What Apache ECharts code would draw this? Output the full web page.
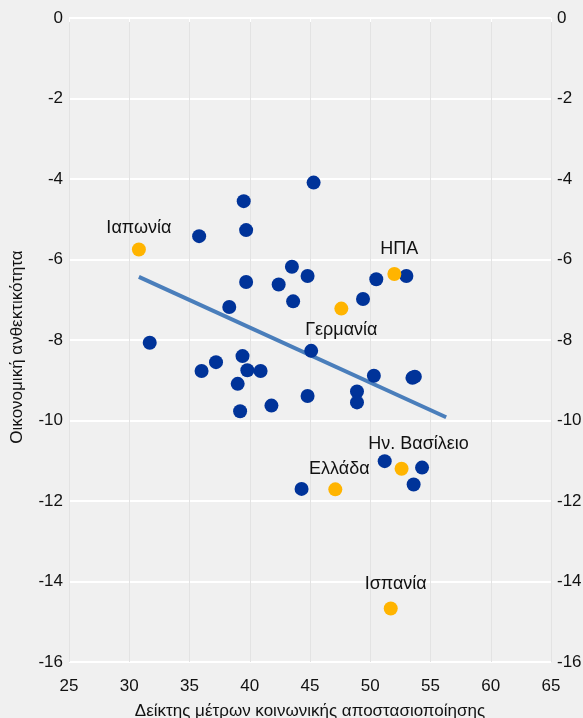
<!DOCTYPE html>
<html>
<head>
<meta charset="utf-8">
<script src="https://cdn.jsdelivr.net/npm/echarts@6/dist/echarts.min.js"></script>
<style>
  html, body { margin: 0; padding: 0; background: #f0f0f0; }
  #chart { width: 583px; height: 718px; }
</style>
</head>
<body>
<div id="chart"></div>
<script>
// other countries (blue dots)
const otherX = [31.7, 35.8, 36.0, 37.2, 38.3, 39.5, 39.7, 39.7, 39.4, 39.8, 40.9, 39.0, 39.2, 41.8,
  43.5, 42.4, 43.6, 44.8, 45.3, 45.1, 44.8, 49.4, 50.5, 53.0, 50.3, 48.9, 48.9, 53.5, 53.7,
  51.2, 54.3, 53.6, 44.3];
const otherY = [-8.07, -5.42, -8.77, -8.55, -7.18, -4.55, -5.27, -6.56, -8.40, -8.75, -8.77, -9.09, -9.77, -9.63,
  -6.18, -6.62, -7.04, -6.41, -4.09, -8.27, -9.39, -6.98, -6.49, -6.41, -8.89, -9.28, -9.55, -8.94, -8.91,
  -11.01, -11.17, -11.59, -11.70];

// highlighted countries (yellow dots)
const hlNames = ['Ιαπωνία', 'Γερμανία', 'ΗΠΑ', 'Ην. Βασίλειο', 'Ελλάδα', 'Ισπανία'];
const hlX = [30.8, 47.6, 52.0, 52.6, 47.1, 51.7];
const hlY = [-5.75, -7.22, -6.36, -11.20, -11.71, -14.67];

// trend line end points
const trendX = [30.8, 56.3];
const trendY = [-6.43, -9.92];

// label placement per country
const labelPos = {
  'Ιαπωνία': { position: 'top', offset: [0, 0] },
  'Γερμανία': { position: 'bottom', offset: [0, 0] },
  'ΗΠΑ': { position: 'top', offset: [5, -4] },
  'Ην. Βασίλειο': { position: 'top', offset: [17, -4] },
  'Ελλάδα': { position: 'top', offset: [4, 1] },
  'Ισπανία': { position: 'top', offset: [5, -3] }
};

const font = 'Liberation Sans, Arial, sans-serif';
const chart = echarts.init(document.getElementById('chart'));

const yAxisBase = {
  type: 'value',
  min: -16,
  max: 0,
  interval: 2,
  axisLine: { show: false },
  axisTick: { show: false },
  axisLabel: { color: '#111', fontSize: 17, fontFamily: font, margin: 6 }
};

chart.setOption({
  backgroundColor: '#f0f0f0',
  animation: false,
  grid: { left: 69, right: 32, top: 18, bottom: 56, containLabel: false, outerBoundsMode: 'none' },
  xAxis: {
    type: 'value',
    min: 25,
    max: 65,
    interval: 5,
    name: 'Δείκτης μέτρων κοινωνικής αποστασιοποίησης',
    nameLocation: 'middle',
    nameGap: 41,
    nameTextStyle: { color: '#111', fontSize: 17, fontFamily: font },
    axisLine: { show: false },
    axisTick: { show: true, length: 4, lineStyle: { color: '#ffffff' } },
    axisLabel: { color: '#111', fontSize: 17, fontFamily: font, margin: 16 },
    splitLine: { show: true, lineStyle: { color: '#e3e3e3', width: 1 } }
  },
  yAxis: [
    Object.assign({}, yAxisBase, {
      position: 'left',
      name: 'Οικονομική ανθεκτικότητα',
      nameLocation: 'middle',
      nameGap: 43,
      nameTextStyle: { color: '#111', fontSize: 17, fontFamily: font, padding: [0, 14, 0, 0] },
      splitLine: { show: true, lineStyle: { color: '#ffffff', width: 2 } }
    }),
    Object.assign({}, yAxisBase, {
      position: 'right',
      splitLine: { show: false }
    })
  ],
  series: [
    {
      type: 'line',
      data: trendX.map((x, i) => [x, trendY[i]]),
      symbol: 'none',
      lineStyle: { color: '#4a7ebb', width: 4 },
      z: 2
    },
    {
      type: 'scatter',
      symbolSize: 14,
      itemStyle: { color: '#003399', opacity: 1 },
      data: otherX.map((x, i) => [x, otherY[i]]),
      z: 3
    },
    {
      type: 'scatter',
      symbolSize: 14,
      itemStyle: { color: '#ffb400', opacity: 1 },
      data: hlNames.map((n, i) => ({
        name: n,
        value: [hlX[i], hlY[i]],
        label: {
          show: true,
          formatter: '{b}',
          position: labelPos[n].position,
          offset: labelPos[n].offset,
          distance: 5,
          color: '#111',
          fontSize: 18,
          fontFamily: font
        }
      })),
      z: 4
    }
  ]
});
</script>
</body>
</html>
